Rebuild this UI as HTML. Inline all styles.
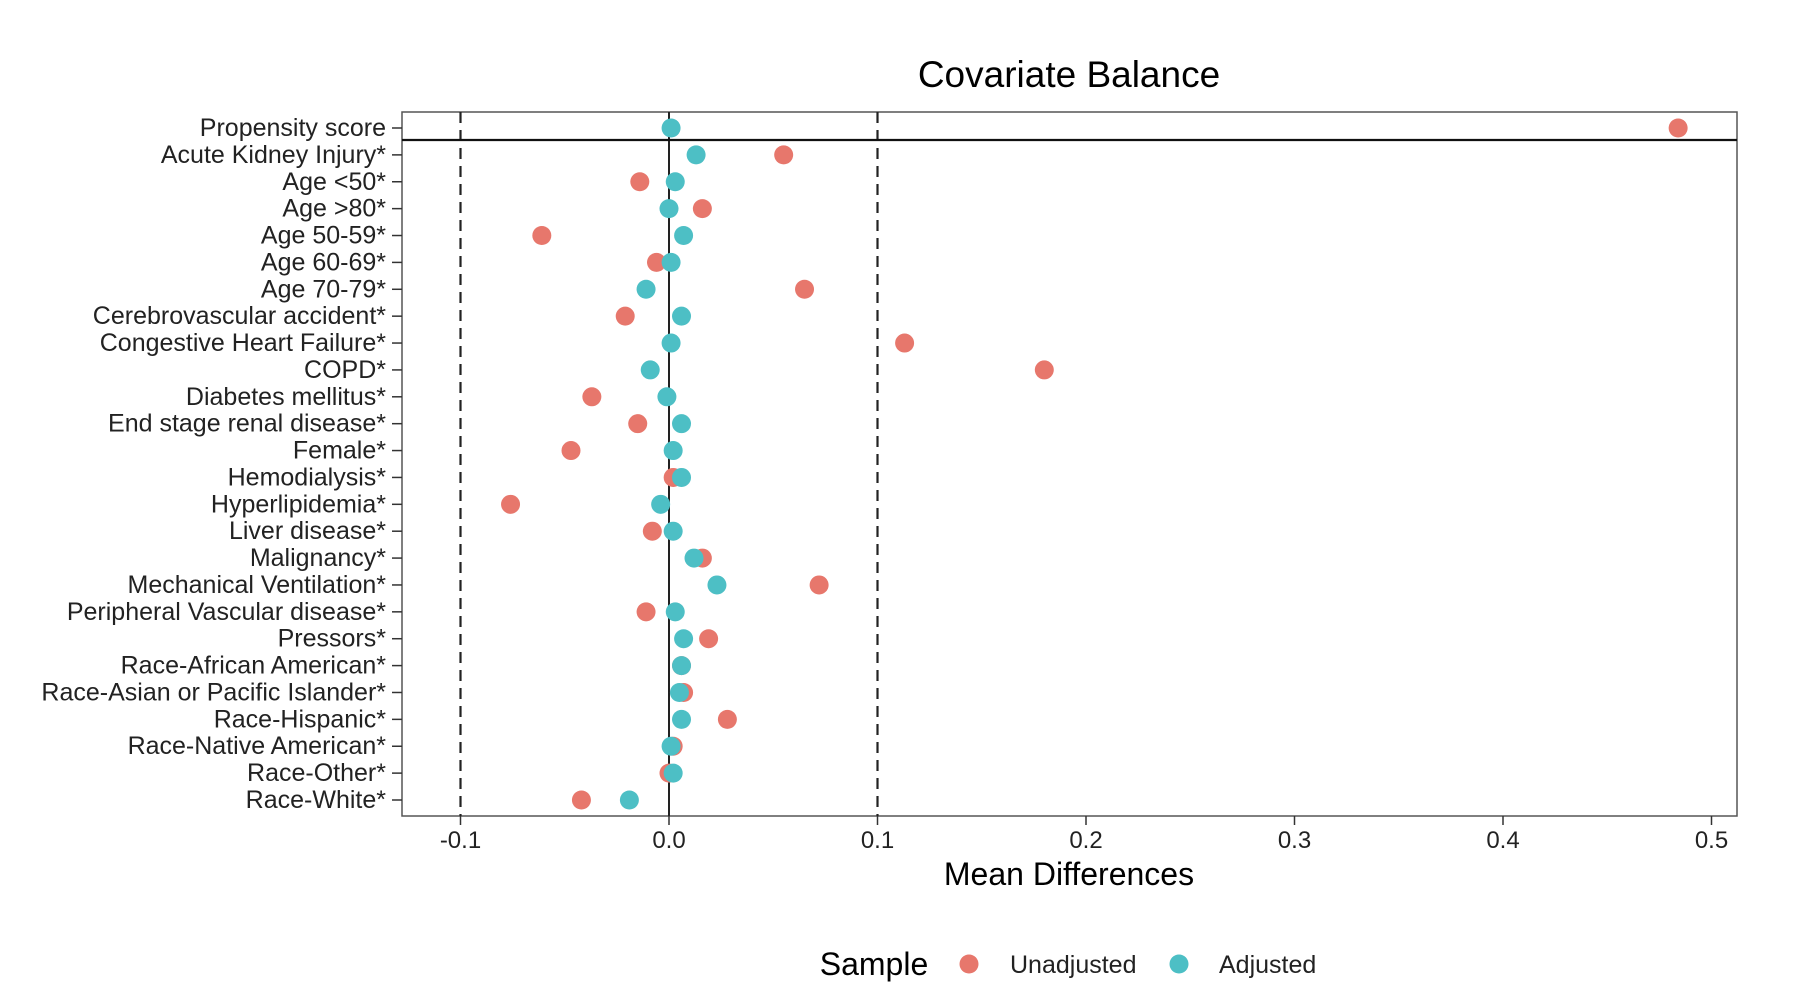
<!DOCTYPE html>
<html><head><meta charset="utf-8"><style>
body{margin:0;background:#fff;}
svg{display:block;font-family:"Liberation Sans",Arial,sans-serif;}
</style></head><body>
<svg id="chart" width="1803" height="1008" viewBox="0 0 1803 1008"></svg>
<script>
const categories=["Propensity score","Acute Kidney Injury*","Age <50*","Age >80*","Age 50-59*","Age 60-69*","Age 70-79*","Cerebrovascular accident*","Congestive Heart Failure*","COPD*","Diabetes mellitus*","End stage renal disease*","Female*","Hemodialysis*","Hyperlipidemia*","Liver disease*","Malignancy*","Mechanical Ventilation*","Peripheral Vascular disease*","Pressors*","Race-African American*","Race-Asian or Pacific Islander*","Race-Hispanic*","Race-Native American*","Race-Other*","Race-White*"];
const unadjusted=[0.484,0.055,-0.014,0.016,-0.061,-0.006,0.065,-0.021,0.113,0.180,-0.037,-0.015,-0.047,0.002,-0.076,-0.008,0.016,0.072,-0.011,0.019,0.006,0.007,0.028,0.002,0.000,-0.042];
const adjusted=[0.001,0.013,0.003,0.000,0.007,0.001,-0.011,0.006,0.001,-0.009,-0.001,0.006,0.002,0.006,-0.004,0.002,0.012,0.023,0.003,0.007,0.006,0.005,0.006,0.001,0.002,-0.019];
const xTicks=[-0.1,0,0.1,0.2,0.3,0.4,0.5];
const xTickLabels=["-0.1","0.0","0.1","0.2","0.3","0.4","0.5"];
const thresholds=[-0.1,0.1];

const NS="http://www.w3.org/2000/svg";
const svg=document.getElementById('chart');
const L=402,R=1737,T=112,B=816;
const x=v=>669+v*2085;
const y=i=>128+i*26.88;
function mk(tag,attrs,parent){const e=document.createElementNS(NS,tag);for(const k in attrs)e.setAttribute(k,attrs[k]);(parent||svg).appendChild(e);return e;}

const title=mk('text',{x:1069,y:87,'text-anchor':'middle','font-size':37,fill:'#000'});
title.textContent='Covariate Balance';



const panel=mk('rect',{x:L,y:T,width:R-L,height:B-T,fill:'none',stroke:'#555','stroke-width':1.5});



thresholds.forEach(t=>{
  const l=mk('line',{x1:x(t),x2:x(t),y1:T,y2:B,stroke:'#222','stroke-width':2.2,'stroke-dasharray':'11 7'});
  
  
});
const zl=mk('line',{x1:x(0),x2:x(0),y1:T,y2:B,stroke:'#222','stroke-width':2});


const hl=mk('line',{x1:L,x2:R,y1:140,y2:140,stroke:'#111','stroke-width':2.2});



categories.forEach((c,i)=>{
  const t=mk('line',{x1:392,x2:L,y1:y(i),y2:y(i),stroke:'#333','stroke-width':1.5});
  
  
  const lb=mk('text',{x:386,y:y(i)+8,'text-anchor':'end','font-size':25,fill:'#222'});
  lb.textContent=c;
  
  
});
xTicks.forEach((v,i)=>{
  const t=mk('line',{x1:x(v),x2:x(v),y1:B,y2:B+9,stroke:'#333','stroke-width':1.5});
  
  
  const lb=mk('text',{x:x(v),y:848,'text-anchor':'middle','font-size':24,fill:'#222'});
  lb.textContent=xTickLabels[i];
  
  
});
const xt=mk('text',{x:1069,y:885,'text-anchor':'middle','font-size':32,fill:'#000'});
xt.textContent='Mean Differences';



categories.forEach((c,i)=>{
  const p=mk('circle',{cx:x(unadjusted[i]),cy:y(i),r:9.5,fill:'#E7776C'});
  
  
});
categories.forEach((c,i)=>{
  const p=mk('circle',{cx:x(adjusted[i]),cy:y(i),r:9.5,fill:'#4DBFC5'});
  
  
});

const lt=mk('text',{x:874,y:975,'text-anchor':'middle','font-size':32,fill:'#000'});
lt.textContent='Sample';


const d1=mk('circle',{cx:969,cy:964,r:9.5,fill:'#E7776C'});


const t1=mk('text',{x:1010,y:973,'font-size':25,fill:'#222'});
t1.textContent='Unadjusted';


const d2=mk('circle',{cx:1179,cy:964,r:9.5,fill:'#4DBFC5'});


const t2=mk('text',{x:1219,y:973,'font-size':25,fill:'#222'});
t2.textContent='Adjusted';


</script>
</body></html>
